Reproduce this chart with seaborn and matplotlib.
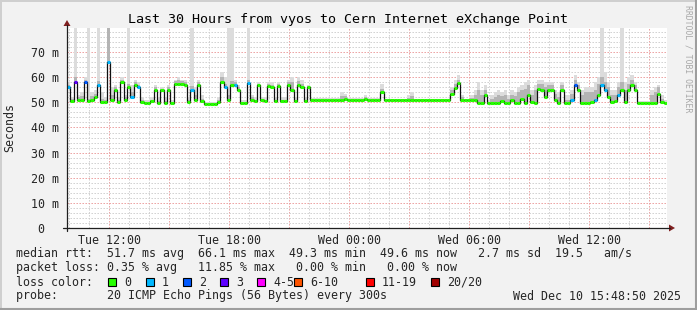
import numpy as np
import pandas as pd
import matplotlib
matplotlib.use("Agg")
import matplotlib.pyplot as plt
import seaborn as sns
from matplotlib.patches import Rectangle, Polygon
from matplotlib.lines import Line2D

# ---------------- data (10-minute samples, Tue 09:54 -> Wed 15:54) ----------------
median_ms = [
    56, 50.5, 58, 51, 51, 58, 50.5, 51, 52, 57,
    50, 50, 66, 51, 55, 50, 58, 51, 56, 52,
    57, 56, 50, 49.6, 49.8, 50.5, 55, 49.8, 55, 49.8,
    55, 49.6, 57.5, 57.5, 57.5, 57, 50, 55, 51, 57,
    50.5, 49.5, 49.5, 49.5, 49.5, 50, 58, 56, 51, 57,
    57, 55, 49.7, 49.7, 57.6, 51, 50.5, 57, 51, 50.5,
    56.5, 56, 50.5, 56.5, 50.5, 50.5, 57, 55, 50.5, 57,
    56, 50.5, 56, 51, 51, 51, 51, 51, 51, 51,
    51, 51, 51, 51.5, 51, 51, 51, 51, 51, 51.3,
    51, 51, 51, 51, 54, 50.9, 50.9, 50.9, 50.9, 50.9,
    50.9, 50.9, 50.9, 50.9, 50.9, 50.9, 50.9, 50.9, 50.9, 50.9,
    50.9, 50.9, 50.9, 50.9, 50.9, 53.5, 55.7, 57.6, 51, 50.8,
    50.8, 50.8, 50.8, 49.7, 49.7, 53, 49.7, 49.7, 49.7, 49.7,
    50.5, 49.7, 49.7, 51, 49.7, 49.7, 51.3, 49.7, 53, 50,
    49.7, 55.3, 55, 52, 55, 55, 51, 49.7, 55, 49.7,
    49.7, 51, 57, 55, 49.7, 49.7, 49.7, 50, 51, 53,
    57, 55, 52, 50, 50.5, 53, 55, 50, 55, 57,
    55, 49.7, 49.7, 49.7, 49.7, 49.7, 49.7, 53.5, 50, 49.7,
]

loss_cnt = [
    1, 0, 3, 0, 0, 2, 0, 0, 0, 1,
    0, 0, 1, 0, 0, 0, 0, 0, 0, 1,
    0, 1, 0, 0, 0, 0, 0, 0, 0, 0,
    0, 0, 0, 0, 0, 0, 0, 1, 0, 0,
    0, 0, 0, 0, 0, 0, 0, 1, 0, 0,
    1, 0, 0, 0, 1, 0, 0, 0, 0, 0,
    0, 0, 0, 0, 0, 0, 0, 0, 0, 0,
    0, 0, 0, 0, 0, 0, 0, 0, 0, 0,
    0, 0, 0, 0, 0, 0, 0, 0, 0, 0,
    0, 0, 0, 0, 0, 0, 0, 0, 0, 0,
    0, 0, 0, 0, 0, 0, 0, 0, 0, 0,
    0, 0, 0, 0, 0, 0, 0, 0, 0, 0,
    0, 0, 0, 0, 0, 0, 0, 0, 0, 0,
    0, 0, 0, 0, 0, 0, 0, 0, 0, 0,
    0, 0, 0, 0, 0, 0, 0, 0, 0, 0,
    0, 1, 2, 0, 0, 0, 0, 0, 1, 0,
    1, 1, 0, 0, 0, 1, 0, 0, 0, 0,
    0, 0, 0, 0, 0, 0, 0, 0, 0, 0,
]

smoke_hi = [
    58, 52, 85, 53, 54, 60, 85, 54, 55, 85,
    54, 52, 85, 56, 57, 52, 60, 53, 85, 57,
    59, 58, 52, 51, 51, 52, 57, 52, 56, 52,
    57, 51, 59, 60, 59, 59, 52, 85, 56, 59,
    53, 50, 50, 50, 50, 52, 62, 60, 85, 85,
    59, 57, 51, 51, 85, 53, 52, 58, 52, 52,
    58, 58, 52, 58, 52, 52, 59, 60, 52, 60,
    59, 52, 57, 51.6, 51.6, 51.6, 51.6, 51.6, 51.6, 51.6,
    51.6, 51.6, 54, 53.5, 51.6, 51.6, 51.6, 51.6, 51.6, 53,
    51.6, 51.6, 51.6, 51.6, 57.5, 51.5, 51.5, 51.5, 51.5, 51.5,
    51.5, 51.5, 53, 54, 51.5, 51.5, 51.5, 51.5, 51.5, 51.5,
    51.5, 51.5, 51.5, 51.5, 51.5, 56, 59, 61, 53, 51.5,
    51.5, 53, 55, 58, 55, 57, 51, 53, 54, 55,
    54, 55, 53, 55, 54, 56, 57, 58, 59, 55,
    57, 59, 59, 58, 58, 58, 55, 54, 58, 53,
    53, 55, 61, 58, 55, 56, 56, 56, 58, 60,
    85, 62, 58, 55, 55, 58, 85, 58, 60, 61,
    58, 50.4, 50.4, 50.4, 50.4, 55, 56, 57, 53, 51,
]

smoke_dark = [
    57, 51.3, 60, 52, 52.5, 59, 51.5, 52.5, 53.5, 58.5,
    51.5, 51, 80, 53, 56, 51, 59, 52, 57.5, 54,
    58, 57, 51, 50.2, 50.2, 51, 56, 50.5, 55.5, 50.5,
    56, 50.2, 58.5, 59, 58.5, 58, 51, 56.5, 53, 58,
    51.5, 49.8, 49.8, 49.8, 49.8, 51, 60, 57.5, 53, 58.5,
    58, 56, 50.3, 50.3, 59, 52, 51, 57.5, 51.5, 51,
    57.5, 57, 51, 57.5, 51, 51, 58, 58, 51, 58.5,
    57.5, 51, 56.5, 51.3, 51.3, 51.3, 51.3, 51.3, 51.3, 51.3,
    51.3, 51.3, 52.5, 52.5, 51.3, 51.3, 51.3, 51.3, 51.3, 52,
    51.3, 51.3, 51.3, 51.3, 55.5, 51.2, 51.2, 51.2, 51.2, 51.2,
    51.2, 51.2, 51.8, 52.5, 51.2, 51.2, 51.2, 51.2, 51.2, 51.2,
    51.2, 51.2, 51.2, 51.2, 51.2, 55, 57.5, 59, 52, 51.2,
    51.2, 51.8, 53, 55, 53, 55, 50.3, 51.5, 52, 53,
    52.5, 53, 51.5, 53, 52.5, 54, 55, 55.5, 57, 53,
    55, 57.5, 57.5, 56, 57, 57, 53.5, 52, 57, 51,
    51, 53.5, 59, 57, 53, 54, 54, 54, 55, 57.5,
    60, 58, 56, 53, 53, 56, 58, 55, 57.5, 59,
    57, 50.2, 50.2, 50.2, 50.2, 53, 54, 56, 51.5, 50.2,
]

start_hour = 9.9          # Tue 09:54, hours since Tue 00:00
step_hour = 1.0 / 6.0     # 10-minute samples

xtick_hours = [12, 18, 24, 30, 36]
xtick_labels = ["Tue 12:00", "Tue 18:00", "Wed 00:00", "Wed 06:00", "Wed 12:00"]
ytick_values = [0, 10, 20, 30, 40, 50, 60, 70]
ytick_labels = ["0  ", "10 m", "20 m", "30 m", "40 m", "50 m", "60 m", "70 m"]

loss_bins = ["0", "1", "2", "3", "4-5", "6-10", "11-19", "20/20"]
loss_colors = ["#26ff00", "#00b8ff", "#0059ff", "#5e00ff", "#ff00ff", "#ff5500", "#ff0000", "#a10000"]

title = "Last 30 Hours from vyos to Cern Internet eXchange Point"
line_rtt = "median rtt:  51.7 ms avg  66.1 ms max  49.3 ms min  49.6 ms now   2.7 ms sd  19.5   am/s"
line_loss = "packet loss: 0.35 % avg   11.85 % max   0.00 % min   0.00 % now"
line_probe = "probe:       20 ICMP Echo Pings (56 Bytes) every 300s"
stamp = "Wed Dec 10 15:48:50 2025"

# ---------------- figure ----------------
sns.set_style("white")
MONO = "DejaVu Sans Mono"
plt.rcParams["font.family"] = [MONO, "DejaVu Sans"]

W, H = 697, 310
fig = plt.figure(figsize=(W / 100, H / 100), dpi=100)
fig.patch.set_facecolor("#F2F2F2")

def fx(px):
    return px / W

def fy(py):
    return 1 - py / H

# 3D frame
fig.add_artist(Line2D([0, 1], [fy(0.5), fy(0.5)], color="#CFCFCF", lw=1.4, transform=fig.transFigure))
fig.add_artist(Line2D([fx(0.5), fx(0.5)], [0, 1], color="#CFCFCF", lw=1.4, transform=fig.transFigure))
fig.add_artist(Line2D([0, 1], [fy(H - 1), fy(H - 1)], color="#9E9E9E", lw=1.5, transform=fig.transFigure))
fig.add_artist(Line2D([fx(W - 1), fx(W - 1)], [0, 1], color="#9E9E9E", lw=1.5, transform=fig.transFigure))

ax = fig.add_axes([fx(67), fy(228), 600 / W, 200 / H])
ax.set_facecolor("white")

n = len(median_ms)
t = start_hour + np.arange(n) * step_hour
med = np.array(median_ms, float)
hi = np.maximum(np.array(smoke_hi, float), med)
dk = np.maximum(np.array(smoke_dark, float), med)
te = np.append(t, t[-1] + step_hour)
mede = np.append(med, med[-1])
hie = np.append(hi, hi[-1])
dke = np.append(dk, dk[-1])

# smoke
ax.fill_between(te, mede, hie, step="post", color="#dcdcdc", lw=0, zorder=2)
ax.fill_between(te, mede, dke, step="post", color="#b4b4b4", lw=0, zorder=2.1)

# median line (black, with steps)
df = pd.DataFrame({"t": te, "median": mede})
sns.lineplot(data=df, x="t", y="median", drawstyle="steps-post", color="#101010",
             lw=0.9, estimator=None, sort=False, ax=ax, zorder=3, legend=False)

# colored median segments by packet loss
def loss_idx(c):
    if c <= 3:
        return c
    if c <= 5:
        return 4
    if c <= 10:
        return 5
    if c <= 19:
        return 6
    return 7

cols = [loss_colors[loss_idx(c)] for c in loss_cnt]
ax.hlines(med, t, t + step_hour, colors=cols, lw=2.2, zorder=4, capstyle="butt")

ax.set_xlim(start_hour, start_hour + n * step_hour)
ax.set_ylim(0, 79.6)

# grid
ax.set_xticks(np.arange(12, 40, 3))
ax.set_xticks(np.arange(10, 40, 1), minor=True)
ax.set_yticks(ytick_values)
ax.set_yticks(np.arange(0, 80, 2), minor=True)
ax.grid(which="minor", color="#cfcfcf", lw=0.72, ls=(0, (1.4, 1.6)))
ax.grid(which="major", color="#eb9d9d", lw=0.72, ls=(0, (1.4, 1.6)))
ax.set_axisbelow(True)

xl = []
for h in np.arange(12, 40, 3):
    xl.append(xtick_labels[xtick_hours.index(h)] if h in xtick_hours else "")
ax.set_xticklabels(xl, fontsize=8.4, family=MONO)
ax.set_yticklabels(ytick_labels, fontsize=8.4, family=MONO)
ax.tick_params(axis="x", which="major", length=3, color="#eb9d9d", pad=1.5)
ax.tick_params(axis="x", which="minor", length=2, color="#cfcfcf")
ax.tick_params(axis="y", which="major", length=3.5, color="#1f1f1f", pad=2.0, width=0.8)
ax.tick_params(axis="y", which="minor", length=1.5, color="#cfcfcf")
for s in ax.spines.values():
    s.set_visible(False)
ax.set_xlabel("")
ax.set_ylabel("")

# axes lines and arrows
fig.add_artist(Line2D([fx(67), fx(67)], [fy(231), fy(25)], color="#1f1f1f", lw=0.9, transform=fig.transFigure))
fig.add_artist(Line2D([fx(63), fx(670)], [fy(228), fy(228)], color="#1f1f1f", lw=0.9, transform=fig.transFigure))
fig.add_artist(Polygon([[fx(67), fy(20)], [fx(63.5), fy(26)], [fx(70.5), fy(26)]], closed=True,
                       color="#801F1F", transform=fig.transFigure, lw=0))
fig.add_artist(Polygon([[fx(675), fy(228)], [fx(669), fy(224.5)], [fx(669), fy(231.5)]], closed=True,
                       color="#801F1F", transform=fig.transFigure, lw=0))

# texts
fig.text(fx(348), fy(19), title, ha="center", va="center", fontsize=9.6, family=MONO, color="black")
fig.text(fx(10), fy(128), "Seconds", ha="center", va="center", rotation=90, fontsize=8.4, family=MONO)
fig.text(fx(688), fy(5), "RRDTOOL / TOBI OETIKER", ha="center", va="top", rotation=270,
         fontsize=5.9, family=MONO, color="#a8a8a8")

fig.text(fx(16), fy(254), line_rtt, ha="left", va="center", fontsize=8.4, family=MONO)
fig.text(fx(16), fy(268), line_loss, ha="left", va="center", fontsize=8.4, family=MONO)
fig.text(fx(16), fy(282), "loss color:", ha="left", va="center", fontsize=8.4, family=MONO)
box_x = [108, 146, 183, 220, 257, 294, 366, 431]
for bx, lab, c in zip(box_x, loss_bins, loss_colors):
    fig.add_artist(Rectangle((fx(bx), fy(286)), 8 / W, 8 / H, facecolor=c, edgecolor="black",
                             lw=0.8, transform=fig.transFigure))
    fig.text(fx(bx + 16), fy(282), lab, ha="left", va="center", fontsize=8.4, family=MONO)
fig.text(fx(16), fy(296), line_probe, ha="left", va="center", fontsize=8.4, family=MONO)
fig.text(fx(513), fy(296), stamp, ha="left", va="center", fontsize=8.4, family=MONO)

fig.savefig("out.png", dpi=100, facecolor=fig.get_facecolor())
